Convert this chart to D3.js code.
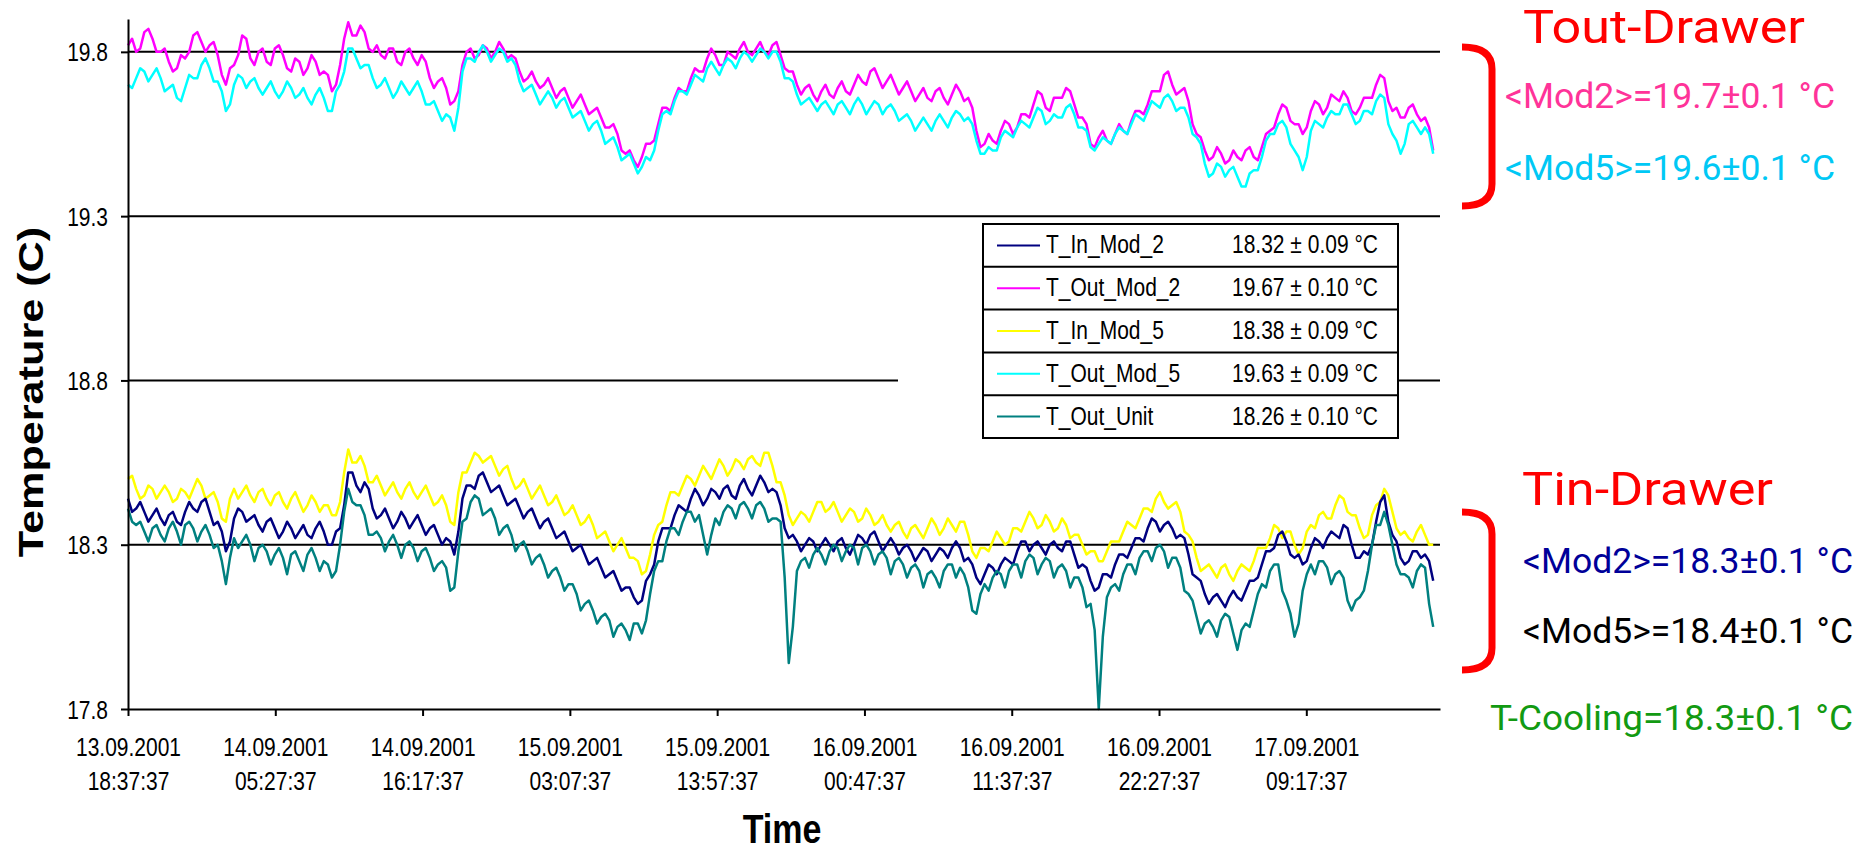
<!DOCTYPE html>
<html>
<head>
<meta charset="utf-8">
<script src="https://cdn.jsdelivr.net/npm/d3@7"></script>
<style>
  body { margin: 0; background: #fff; }
  svg { display: block; }
</style>
</head>
<body>
<div id="chart"></div>
<script>
// sampling of the temperature logs
const startTime = "13.09.2001 18:37:37";
const endTime = "17.09.2001 19:07:37";
const sampleMinutes = 18;

const tickLabels = [
  "13.09.2001 18:37:37", "14.09.2001 05:27:37", "14.09.2001 16:17:37",
  "15.09.2001 03:07:37", "15.09.2001 13:57:37", "16.09.2001 00:47:37",
  "16.09.2001 11:37:37", "16.09.2001 22:27:37", "17.09.2001 09:17:37"
];
const yTicks = [17.8, 18.3, 18.8, 19.3, 19.8];

const seriesNames = ["T_In_Mod_2", "T_Out_Mod_2", "T_In_Mod_5", "T_Out_Mod_5", "T_Out_Unit"];
const seriesStats = ["18.32 \u00b1 0.09 \u00b0C", "19.67 \u00b1 0.10 \u00b0C", "18.38 \u00b1 0.09 \u00b0C",
  "19.63 \u00b1 0.09 \u00b0C", "18.26 \u00b1 0.10 \u00b0C"];
const seriesColors = ["#000080", "#ff00ff", "#ffff00", "#00ffff", "#008080"];

const tOutMod2 = [
  19.82,19.84,19.80,19.81,19.86,19.87,19.84,19.80,19.80,19.81,
  19.77,19.74,19.75,19.79,19.78,19.80,19.85,19.86,19.83,19.80,
  19.82,19.83,19.79,19.73,19.70,19.75,19.76,19.79,19.85,19.84,
  19.78,19.76,19.80,19.81,19.77,19.76,19.81,19.82,19.79,19.75,
  19.74,19.78,19.77,19.73,19.75,19.79,19.77,19.73,19.74,19.73,
  19.68,19.70,19.76,19.84,19.89,19.85,19.85,19.88,19.86,19.81,
  19.80,19.82,19.79,19.78,19.81,19.81,19.77,19.76,19.80,19.81,
  19.78,19.76,19.79,19.77,19.72,19.69,19.71,19.72,19.69,19.64,
  19.65,19.68,19.76,19.80,19.81,19.78,19.79,19.82,19.81,19.78,
  19.80,19.83,19.81,19.78,19.79,19.78,19.74,19.71,19.72,19.74,
  19.71,19.69,19.70,19.72,19.69,19.66,19.68,19.69,19.66,19.63,
  19.65,19.67,19.64,19.61,19.62,19.63,19.60,19.57,19.57,19.58,
  19.55,19.50,19.49,19.50,19.47,19.45,19.48,19.52,19.52,19.53,
  19.58,19.63,19.63,19.62,19.66,19.69,19.68,19.68,19.72,19.75,
  19.74,19.74,19.78,19.81,19.79,19.76,19.76,19.80,19.79,19.78,
  19.81,19.83,19.80,19.79,19.81,19.83,19.80,19.79,19.82,19.83,
  19.79,19.75,19.74,19.74,19.70,19.67,19.69,19.70,19.67,19.65,
  19.68,19.70,19.67,19.66,19.69,19.71,19.68,19.67,19.70,19.73,
  19.71,19.70,19.74,19.75,19.72,19.69,19.71,19.73,19.70,19.67,
  19.69,19.71,19.68,19.65,19.67,19.69,19.66,19.65,19.68,19.69,
  19.66,19.64,19.67,19.70,19.68,19.65,19.66,19.63,19.56,19.51,
  19.52,19.55,19.53,19.52,19.56,19.59,19.58,19.55,19.57,19.61,
  19.61,19.60,19.64,19.68,19.67,19.63,19.62,19.66,19.66,19.66,
  19.69,19.68,19.64,19.60,19.60,19.58,19.52,19.51,19.54,19.56,
  19.53,19.52,19.55,19.58,19.56,19.55,19.59,19.62,19.62,19.61,
  19.64,19.68,19.68,19.68,19.73,19.74,19.70,19.67,19.68,19.69,
  19.65,19.58,19.55,19.54,19.50,19.47,19.48,19.51,19.49,19.46,
  19.47,19.50,19.48,19.47,19.50,19.51,19.48,19.47,19.51,19.55,
  19.56,19.57,19.61,19.64,19.63,19.59,19.58,19.58,19.55,19.57,
  19.62,19.65,19.64,19.61,19.63,19.67,19.66,19.65,19.68,19.66,
  19.62,19.61,19.63,19.66,19.66,19.66,19.70,19.73,19.72,19.65,
  19.62,19.63,19.60,19.60,19.63,19.64,19.61,19.59,19.60,19.57,
  19.50
];
const tOutMod5 = [
  19.70,19.69,19.72,19.75,19.74,19.71,19.73,19.75,19.72,19.68,
  19.69,19.70,19.66,19.65,19.69,19.73,19.72,19.72,19.76,19.78,
  19.75,19.71,19.71,19.68,19.62,19.64,19.70,19.73,19.72,19.69,
  19.71,19.72,19.69,19.67,19.69,19.71,19.68,19.66,19.68,19.71,
  19.69,19.66,19.67,19.69,19.66,19.64,19.67,19.69,19.66,19.62,
  19.62,19.68,19.70,19.74,19.81,19.81,19.78,19.75,19.76,19.76,
  19.72,19.69,19.70,19.72,19.69,19.66,19.68,19.71,19.69,19.67,
  19.69,19.71,19.68,19.64,19.64,19.65,19.62,19.59,19.61,19.60,
  19.56,19.63,19.74,19.78,19.78,19.77,19.80,19.82,19.80,19.77,
  19.79,19.81,19.80,19.77,19.78,19.76,19.71,19.68,19.69,19.70,
  19.67,19.64,19.66,19.68,19.66,19.63,19.65,19.66,19.63,19.60,
  19.61,19.62,19.59,19.56,19.58,19.59,19.56,19.52,19.53,19.54,
  19.51,19.47,19.48,19.49,19.46,19.43,19.45,19.48,19.47,19.50,
  19.56,19.61,19.62,19.61,19.65,19.68,19.68,19.67,19.70,19.73,
  19.72,19.71,19.75,19.77,19.75,19.73,19.76,19.78,19.77,19.75,
  19.78,19.80,19.79,19.77,19.79,19.81,19.80,19.78,19.80,19.80,
  19.77,19.72,19.72,19.71,19.67,19.64,19.65,19.66,19.64,19.62,
  19.64,19.65,19.63,19.61,19.64,19.65,19.63,19.61,19.64,19.66,
  19.64,19.61,19.63,19.65,19.64,19.61,19.63,19.64,19.62,19.59,
  19.60,19.61,19.59,19.56,19.58,19.60,19.58,19.56,19.59,19.61,
  19.59,19.57,19.60,19.62,19.61,19.59,19.60,19.58,19.53,19.49,
  19.49,19.51,19.50,19.50,19.54,19.56,19.55,19.54,19.57,19.59,
  19.58,19.57,19.60,19.63,19.62,19.58,19.59,19.61,19.60,19.60,
  19.63,19.64,19.61,19.57,19.57,19.56,19.51,19.50,19.52,19.54,
  19.53,19.52,19.55,19.57,19.56,19.55,19.58,19.61,19.60,19.59,
  19.62,19.65,19.64,19.63,19.66,19.67,19.65,19.62,19.63,19.63,
  19.60,19.55,19.54,19.52,19.46,19.42,19.43,19.46,19.45,19.42,
  19.44,19.45,19.42,19.39,19.39,19.43,19.44,19.44,19.48,19.53,
  19.55,19.55,19.58,19.59,19.57,19.52,19.50,19.48,19.44,19.48,
  19.56,19.59,19.58,19.57,19.60,19.62,19.61,19.61,19.64,19.64,
  19.61,19.58,19.59,19.62,19.62,19.61,19.65,19.67,19.66,19.58,
  19.55,19.53,19.49,19.52,19.58,19.59,19.57,19.55,19.57,19.55,
  19.49
];
const tInMod5 = [
  18.50,18.51,18.47,18.44,18.45,18.48,18.47,18.44,18.46,18.48,
  18.46,18.43,18.44,18.47,18.46,18.44,18.47,18.50,18.48,18.44,
  18.45,18.46,18.43,18.38,18.37,18.44,18.47,18.44,18.46,18.48,
  18.45,18.43,18.46,18.47,18.44,18.42,18.45,18.46,18.43,18.41,
  18.44,18.46,18.43,18.40,18.42,18.45,18.43,18.40,18.42,18.42,
  18.39,18.39,18.43,18.52,18.59,18.55,18.55,18.57,18.54,18.49,
  18.49,18.51,18.48,18.45,18.47,18.49,18.46,18.44,18.47,18.49,
  18.46,18.44,18.46,18.48,18.45,18.42,18.43,18.45,18.42,18.37,
  18.36,18.46,18.52,18.52,18.55,18.58,18.57,18.55,18.56,18.57,
  18.54,18.51,18.53,18.54,18.50,18.47,18.48,18.50,18.47,18.44,
  18.46,18.48,18.45,18.42,18.43,18.45,18.42,18.39,18.40,18.42,
  18.39,18.36,18.37,18.39,18.36,18.32,18.33,18.34,18.31,18.28,
  18.30,18.32,18.29,18.26,18.26,18.25,18.21,18.22,18.27,18.33,
  18.36,18.37,18.42,18.46,18.46,18.45,18.48,18.51,18.50,18.48,
  18.51,18.54,18.52,18.50,18.53,18.56,18.54,18.51,18.53,18.56,
  18.55,18.53,18.56,18.57,18.55,18.54,18.58,18.58,18.54,18.49,
  18.49,18.45,18.39,18.36,18.38,18.40,18.39,18.37,18.40,18.43,
  18.43,18.40,18.41,18.43,18.40,18.37,18.39,18.41,18.40,18.37,
  18.38,18.41,18.39,18.36,18.37,18.39,18.36,18.34,18.36,18.37,
  18.34,18.32,18.35,18.36,18.34,18.32,18.35,18.38,18.36,18.33,
  18.35,18.38,18.36,18.34,18.37,18.37,18.33,18.28,18.26,18.29,
  18.29,18.28,18.31,18.34,18.32,18.30,18.31,18.35,18.35,18.34,
  18.37,18.40,18.38,18.35,18.36,18.39,18.37,18.34,18.35,18.38,
  18.36,18.32,18.33,18.33,18.30,18.27,18.28,18.28,18.25,18.25,
  18.28,18.31,18.31,18.31,18.34,18.37,18.36,18.35,18.38,18.41,
  18.41,18.40,18.44,18.46,18.43,18.41,18.42,18.43,18.40,18.34,
  18.33,18.31,18.26,18.22,18.23,18.24,18.22,18.20,18.23,18.24,
  18.21,18.19,18.22,18.24,18.23,18.22,18.25,18.29,18.29,18.29,
  18.32,18.36,18.35,18.32,18.34,18.34,18.30,18.27,18.29,18.34,
  18.36,18.35,18.39,18.40,18.38,18.38,18.42,18.45,18.44,18.40,
  18.39,18.39,18.35,18.32,18.33,18.39,18.42,18.43,18.47,18.45,
  18.40,18.35,18.33,18.34,18.32,18.31,18.34,18.36,18.33,18.30,
  18.30
];
const tInMod2 = [
  18.44,18.40,18.41,18.43,18.40,18.37,18.39,18.41,18.38,18.36,
  18.39,18.40,18.37,18.36,18.40,18.43,18.41,18.40,18.43,18.44,
  18.40,18.36,18.37,18.34,18.28,18.31,18.38,18.41,18.40,18.37,
  18.38,18.39,18.36,18.34,18.37,18.38,18.35,18.32,18.34,18.37,
  18.35,18.32,18.34,18.36,18.33,18.32,18.35,18.37,18.34,18.30,
  18.30,18.34,18.35,18.42,18.52,18.52,18.48,18.46,18.49,18.47,
  18.41,18.38,18.39,18.41,18.38,18.35,18.37,18.40,18.38,18.35,
  18.37,18.39,18.36,18.33,18.35,18.36,18.33,18.30,18.32,18.31,
  18.27,18.34,18.44,18.48,18.48,18.47,18.51,18.52,18.49,18.46,
  18.47,18.48,18.45,18.42,18.43,18.44,18.41,18.38,18.40,18.41,
  18.38,18.35,18.37,18.38,18.35,18.32,18.33,18.34,18.31,18.28,
  18.29,18.30,18.27,18.24,18.25,18.26,18.23,18.20,18.21,18.22,
  18.19,18.16,18.17,18.17,18.14,18.12,18.13,18.19,18.21,18.24,
  18.31,18.35,18.35,18.35,18.39,18.42,18.41,18.40,18.44,18.47,
  18.45,18.42,18.44,18.47,18.46,18.44,18.47,18.48,18.45,18.44,
  18.48,18.50,18.47,18.45,18.48,18.51,18.49,18.46,18.47,18.46,
  18.42,18.35,18.32,18.33,18.31,18.28,18.30,18.32,18.31,18.28,
  18.30,18.32,18.30,18.28,18.31,18.32,18.29,18.27,18.30,18.33,
  18.32,18.30,18.33,18.34,18.31,18.28,18.30,18.32,18.30,18.27,
  18.29,18.30,18.28,18.25,18.27,18.29,18.28,18.25,18.27,18.29,
  18.28,18.26,18.29,18.31,18.29,18.25,18.26,18.24,18.20,18.18,
  18.21,18.24,18.23,18.21,18.24,18.26,18.25,18.24,18.28,18.31,
  18.31,18.28,18.30,18.31,18.29,18.27,18.30,18.31,18.29,18.28,
  18.31,18.31,18.27,18.23,18.24,18.23,18.19,18.16,18.17,18.21,
  18.21,18.20,18.24,18.27,18.27,18.26,18.29,18.32,18.32,18.31,
  18.35,18.38,18.37,18.34,18.36,18.37,18.35,18.32,18.33,18.32,
  18.27,18.21,18.20,18.19,18.15,18.12,18.14,18.15,18.13,18.11,
  18.14,18.16,18.14,18.13,18.16,18.19,18.19,18.20,18.24,18.28,
  18.28,18.29,18.33,18.34,18.31,18.27,18.26,18.27,18.24,18.25,
  18.29,18.32,18.31,18.29,18.32,18.34,18.33,18.32,18.36,18.35,
  18.30,18.26,18.26,18.28,18.27,18.30,18.37,18.43,18.45,18.37,
  18.33,18.31,18.26,18.24,18.25,18.28,18.28,18.26,18.27,18.25,
  18.19
];
const tOutUnit = [
  18.41,18.37,18.36,18.37,18.34,18.31,18.35,18.36,18.33,18.31,
  18.35,18.37,18.34,18.30,18.36,18.37,18.35,18.31,18.34,18.36,
  18.33,18.29,18.30,18.25,18.18,18.26,18.32,18.29,18.31,18.33,
  18.30,18.25,18.29,18.30,18.28,18.24,18.27,18.29,18.26,18.21,
  18.27,18.28,18.25,18.22,18.27,18.29,18.26,18.22,18.25,18.24,
  18.20,18.22,18.30,18.40,18.47,18.43,18.42,18.42,18.39,18.33,
  18.33,18.34,18.32,18.28,18.31,18.33,18.30,18.26,18.30,18.31,
  18.29,18.25,18.28,18.29,18.26,18.22,18.24,18.25,18.23,18.16,
  18.17,18.28,18.37,18.38,18.43,18.45,18.44,18.39,18.40,18.41,
  18.38,18.33,18.35,18.36,18.33,18.28,18.30,18.31,18.28,18.24,
  18.26,18.27,18.24,18.20,18.22,18.23,18.20,18.16,18.18,18.18,
  18.15,18.10,18.12,18.13,18.10,18.06,18.08,18.09,18.07,18.02,
  18.05,18.06,18.04,18.01,18.06,18.06,18.03,18.07,18.15,18.22,
  18.25,18.25,18.31,18.35,18.35,18.33,18.37,18.40,18.40,18.37,
  18.39,18.33,18.27,18.33,18.38,18.36,18.40,18.42,18.41,18.38,
  18.42,18.43,18.41,18.38,18.42,18.43,18.41,18.37,18.38,18.38,
  18.37,18.20,17.94,18.05,18.22,18.25,18.26,18.23,18.27,18.29,
  18.27,18.24,18.28,18.30,18.29,18.25,18.28,18.30,18.29,18.24,
  18.29,18.30,18.28,18.24,18.27,18.28,18.26,18.21,18.25,18.26,
  18.24,18.20,18.23,18.24,18.22,18.17,18.21,18.22,18.20,18.17,
  18.22,18.24,18.24,18.20,18.23,18.21,18.17,18.10,18.09,18.15,
  18.18,18.16,18.20,18.22,18.21,18.17,18.22,18.24,18.24,18.20,
  18.25,18.27,18.26,18.21,18.24,18.26,18.25,18.20,18.23,18.24,
  18.22,18.17,18.20,18.20,18.17,18.11,18.12,18.04,17.80,18.02,
  18.14,18.17,18.18,18.16,18.21,18.24,18.24,18.21,18.26,18.28,
  18.28,18.25,18.29,18.30,18.28,18.23,18.26,18.26,18.23,18.16,
  18.15,18.13,18.08,18.03,18.06,18.07,18.05,18.02,18.07,18.09,
  18.08,18.03,17.98,18.04,18.06,18.05,18.10,18.15,18.18,18.17,
  18.22,18.24,18.24,18.16,18.13,18.09,18.02,18.06,18.16,18.21,
  18.24,18.21,18.25,18.25,18.23,18.18,18.21,18.22,18.20,18.13,
  18.10,18.13,18.14,18.16,18.22,18.30,18.36,18.36,18.40,18.36,
  18.30,18.24,18.21,18.21,18.20,18.17,18.22,18.24,18.23,18.12,
  18.05
];

// legend order follows seriesNames; drawing order puts the "in" traces on top
const seriesData = [tInMod2, tOutMod2, tInMod5, tOutMod5, tOutUnit];
const drawOrder = [1, 3, 2, 0, 4];

const annotations = [
  { text: "Tout-Drawer", color: "#ff0000", x: 1523, y: 43, size: 46, len: 282 },
  { text: "<Mod2>=19.7\u00b10.1 \u00b0C", color: "#ff3399", x: 1505, y: 108, size: 35, len: 330 },
  { text: "<Mod5>=19.6\u00b10.1 \u00b0C", color: "#00c8f5", x: 1505, y: 180, size: 35, len: 330 },
  { text: "Tin-Drawer", color: "#ff0000", x: 1522, y: 505, size: 46, len: 251 },
  { text: "<Mod2>=18.3\u00b10.1 \u00b0C", color: "#000099", x: 1523, y: 573, size: 35, len: 330 },
  { text: "<Mod5>=18.4\u00b10.1 \u00b0C", color: "#000000", x: 1523, y: 643, size: 35, len: 330 },
  { text: "T-Cooling=18.3\u00b10.1 \u00b0C", color: "#129a12", x: 1490, y: 730, size: 35, len: 363 }
];

const width = 1872, height = 852;
const margin = { left: 128, right: 432, top: 19, bottom: 143 };
const stretch = 1.2; // the original picture is stretched vertically
const tickFont = "21px 'Liberation Sans', Arial, sans-serif";

const parseTime = d3.timeParse("%d.%m.%Y %H:%M:%S");
const t0 = parseTime(startTime);

const x = d3.scaleTime()
  .domain([t0, parseTime(endTime)])
  .range([margin.left, width - margin.right]);
const y = d3.scaleLinear()
  .domain([17.8, 19.9])
  .range([height - margin.bottom, margin.top]);

const svg = d3.select("#chart").append("svg")
  .attr("width", width)
  .attr("height", height)
  .style("background", "#fff");

// horizontal grid lines (18.8 is broken around the legend)
const gridGap = [898, 1398];
yTicks.slice(1).forEach((v) => {
  const spans = v === 18.8
    ? [[x.range()[0], gridGap[0]], [gridGap[1], x.range()[1]]]
    : [x.range()];
  spans.forEach(([a, b]) => {
    svg.append("line").attr("x1", a).attr("x2", b)
      .attr("y1", y(v)).attr("y2", y(v))
      .attr("stroke", "#000").attr("stroke-width", 2);
  });
});

// data lines
const line = d3.line()
  .x((d, i) => x(d3.timeMinute.offset(t0, i * sampleMinutes)))
  .y((d) => y(d));

drawOrder.forEach((k) => {
  svg.append("path")
    .datum(seriesData[k])
    .attr("fill", "none")
    .attr("stroke", seriesColors[k])
    .attr("stroke-width", 2.5)
    .attr("stroke-linejoin", "round")
    .attr("d", line);
});

// axes
const yAxis = svg.append("g")
  .attr("transform", `translate(${margin.left},0)`)
  .call(d3.axisLeft(y).tickValues(yTicks).tickFormat(d3.format(".1f"))
    .tickSize(7).tickSizeOuter(0).tickPadding(13));
yAxis.selectAll("text")
  .attr("transform", `scale(1,${stretch})`)
  .attr("dy", "0.36em")
  .style("font", tickFont)
  .attr("fill", "#000");

const tickDates = tickLabels.map(parseTime);
const xAxis = svg.append("g")
  .attr("transform", `translate(0,${y(17.8)})`)
  .call(d3.axisBottom(x).tickValues(tickDates).tickFormat(() => "")
    .tickSize(7).tickSizeOuter(0));
xAxis.selectAll(".tick text").remove();
xAxis.selectAll(".tick").each(function (d, i) {
  const parts = tickLabels[i].split(" ");
  const t = d3.select(this).append("text")
    .attr("transform", `scale(1,${stretch})`)
    .attr("text-anchor", "middle")
    .attr("fill", "#000")
    .style("font", tickFont);
  t.append("tspan").attr("x", 0).attr("y", 39).text(parts[0]);
  t.append("tspan").attr("x", 0).attr("y", 67.5).text(parts[1]);
});

[yAxis, xAxis].forEach((g) => {
  g.selectAll("path, line").attr("stroke", "#000").attr("stroke-width", 2);
});

// axis titles
svg.append("text")
  .attr("transform", `translate(43,392) rotate(-90) scale(${stretch},1)`)
  .attr("text-anchor", "middle")
  .style("font", "bold 36px 'Liberation Sans', Arial, sans-serif")
  .text("Temperature (C)");

svg.append("text")
  .attr("transform", `translate(782,843) scale(1,${stretch})`)
  .attr("text-anchor", "middle")
  .style("font", "bold 34px 'Liberation Sans', Arial, sans-serif")
  .text("Time");

// legend
const legend = { x: 983, y: 224, w: 415, rowH: 42.8 };
const lg = svg.append("g");
lg.append("rect")
  .attr("x", legend.x).attr("y", legend.y)
  .attr("width", legend.w).attr("height", legend.rowH * seriesNames.length)
  .attr("fill", "#fff").attr("stroke", "#000").attr("stroke-width", 2);

seriesNames.forEach((name, i) => {
  const top = legend.y + i * legend.rowH;
  const cy = top + legend.rowH / 2;
  if (i > 0) {
    lg.append("line").attr("x1", legend.x).attr("x2", legend.x + legend.w)
      .attr("y1", top).attr("y2", top).attr("stroke", "#000").attr("stroke-width", 2);
  }
  lg.append("line").attr("x1", legend.x + 14).attr("x2", legend.x + 57)
    .attr("y1", cy).attr("y2", cy)
    .attr("stroke", seriesColors[i]).attr("stroke-width", 2);
  lg.append("text")
    .attr("transform", `translate(${legend.x + 63},${cy + 8}) scale(1,${stretch})`)
    .style("font", tickFont).text(name);
  lg.append("text")
    .attr("transform", `translate(${legend.x + 249},${cy + 8}) scale(1,${stretch})`)
    .style("font", tickFont).text(seriesStats[i]);
});

// annotation brackets and notes
const bracket = (top, bottom) =>
  `M1462,${top} Q1492,${top} 1492,${top + 22} L1492,${bottom - 22} Q1492,${bottom} 1462,${bottom}`;
svg.append("path").attr("d", bracket(47, 206))
  .attr("fill", "none").attr("stroke", "#ff0000").attr("stroke-width", 7);
svg.append("path").attr("d", bracket(512, 670))
  .attr("fill", "none").attr("stroke", "#ff0000").attr("stroke-width", 7);

annotations.forEach((a) => {
  svg.append("text")
    .attr("x", a.x).attr("y", a.y)
    .attr("fill", a.color)
    .attr("textLength", a.len)
    .attr("lengthAdjust", "spacingAndGlyphs")
    .style("font", `${a.size}px Roboto, 'Noto Sans', sans-serif`)
    .text(a.text);
});
</script>
</body>
</html>
